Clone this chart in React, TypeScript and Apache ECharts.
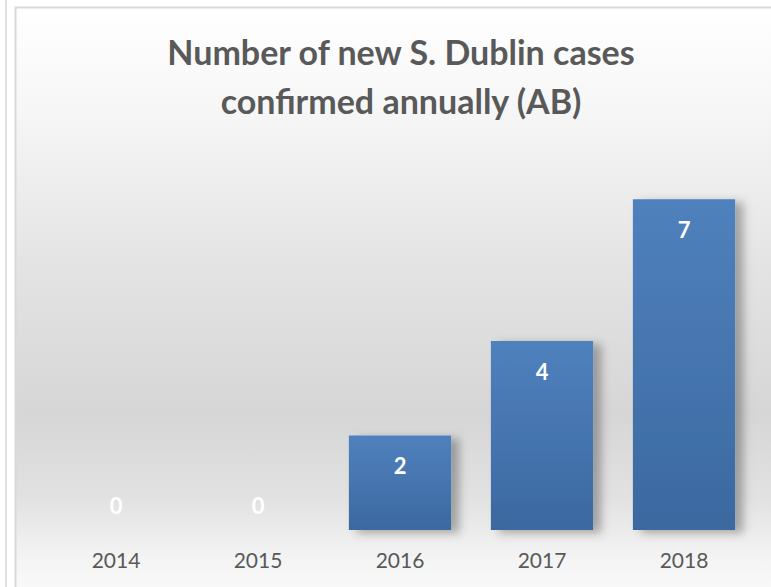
import React, { useEffect, useRef } from "react";
import * as echarts from "echarts";

const titleLines = ["Number of new S. Dublin cases", "confirmed annually (AB)"];
const years = ["2014", "2015", "2016", "2017", "2018"];
const cases = [0, 0, 2, 4, 7];

export default function App() {
  const ref = useRef<HTMLDivElement>(null);
  useEffect(() => {
    const chart = echarts.init(ref.current!, null, { renderer: "svg" });
    const font = "Lato, 'Open Sans', sans-serif";
    chart.setOption({
      animation: false,
      backgroundColor: "#ffffff",
      graphic: [
        {
          type: "rect",
          z: -10,
          shape: { x: 5, y: -2, width: 2, height: 600 },
          style: { fill: "#e0e0e0" },
        },
        {
          type: "rect",
          z: -10,
          shape: { x: 15.5, y: 7.5, width: 770, height: 600 },
          style: {
            fill: new echarts.graphic.LinearGradient(0, 0, 0, 1, [
              { offset: 0, color: "#ffffff" },
              { offset: 0.16, color: "#f7f7f7" },
              { offset: 0.42, color: "#e4e4e4" },
              { offset: 0.68, color: "#d6d6d6" },
              { offset: 0.82, color: "#e2e2e2" },
              { offset: 0.92, color: "#f4f4f4" },
              { offset: 1, color: "#fcfcfc" },
            ]),
            stroke: "#d9d9d9",
            lineWidth: 2,
          },
        },
        {
          type: "text",
          z: 10,
          x: 401,
          y: 27,
          style: {
            text: titleLines.join("\n"),
            textAlign: "center",
            textVerticalAlign: "top",
            fontFamily: font,
            fontWeight: "bold",
            fontSize: 34,
            lineHeight: 49,
            fill: "#595959",
          },
        },
      ],
      grid: { left: 45, right: 16, top: 152, bottom: 57 },
      xAxis: {
        type: "category",
        data: years,
        axisLine: { show: false },
        axisTick: { show: false },
        axisLabel: {
          color: "#595959",
          fontFamily: font,
          fontSize: 21,
          margin: 19,
        },
      },
      yAxis: {
        type: "value",
        min: 0,
        max: 8,
        show: false,
        splitLine: { show: false },
      },
      series: [
        {
          type: "bar",
          barWidth: "72%",
          data: cases.map((v) =>
            v === 0
              ? { value: v, label: { position: "top", distance: 14 } }
              : { value: v }
          ),
          itemStyle: {
            color: new echarts.graphic.LinearGradient(0, 0, 0, 1, [
              { offset: 0, color: "#4f81bd" },
              { offset: 1, color: "#3c68a0" },
            ]),
            shadowColor: "rgba(0,0,0,0.3)",
            shadowBlur: 10,
            shadowOffsetX: 8,
            shadowOffsetY: 3,
          },
          label: {
            show: true,
            position: "insideTop",
            distance: 19,
            color: "#ffffff",
            fontFamily: font,
            fontWeight: "bold",
            fontSize: 22,
          },
        },
      ],
    });
    return () => chart.dispose();
  }, []);
  return (
    <div
      ref={ref}
      style={{ position: "fixed", left: 0, top: 0, width: 771, height: 587 }}
    />
  );
}
